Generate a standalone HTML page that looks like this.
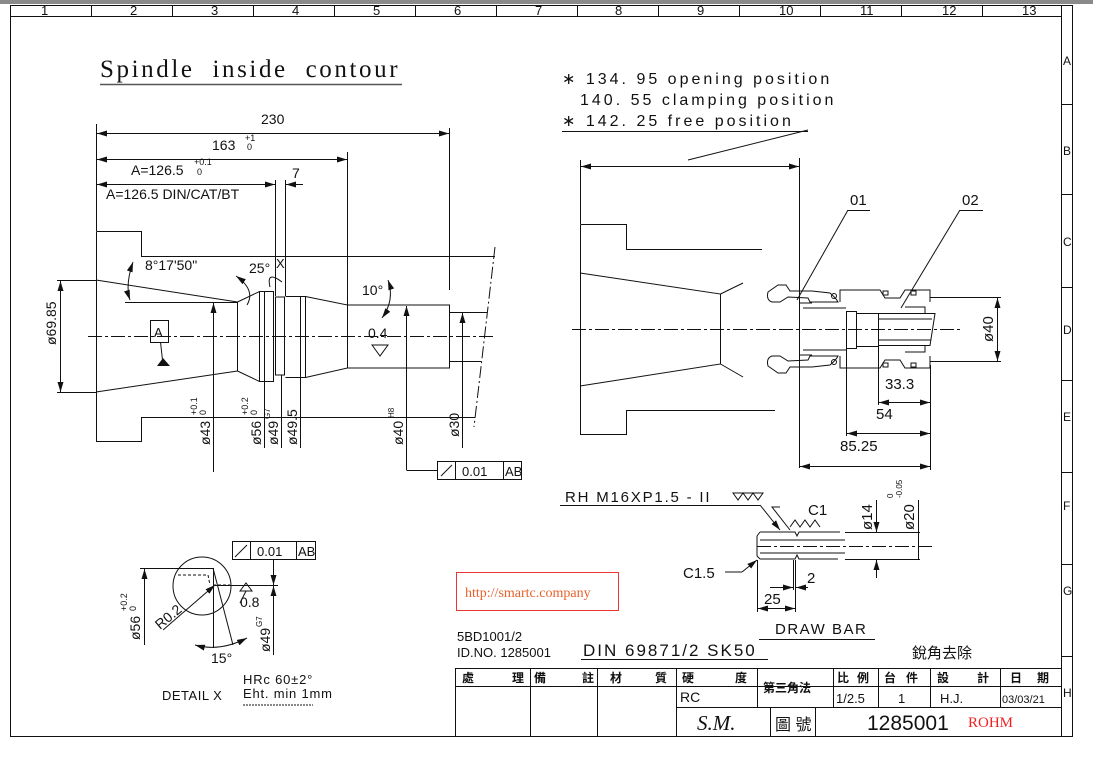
<!DOCTYPE html>
<html><head><meta charset="utf-8"><style>
html,body{margin:0;padding:0;background:#fff;width:1093px;height:758px;overflow:hidden}
svg{display:block}
text{font-family:"Liberation Sans","Noto Sans CJK TC",sans-serif;fill:#111}
.t{font-size:14px}
</style></head><body>
<svg width="1093" height="758" viewBox="0 0 1093 758" xmlns="http://www.w3.org/2000/svg">
<defs>
<marker id="a" viewBox="0 0 10 6" refX="10" refY="3" markerWidth="10" markerHeight="6" markerUnits="userSpaceOnUse" orient="auto-start-reverse"><path d="M0,0 L10,3 L0,6 Z" fill="#111"/></marker>
</defs>
<rect x="0" y="0" width="1093" height="4" fill="#8a8a8a"/>
<g stroke="#111" stroke-width="1" fill="none">
<rect x="10.5" y="5.5" width="1062" height="731"/>
<line x1="10" y1="16.5" x2="1061" y2="16.5"/>
<line x1="1061.5" y1="5" x2="1061.5" y2="737"/>
<g>
<line x1="91.5" y1="5" x2="91.5" y2="16"/><line x1="172.5" y1="5" x2="172.5" y2="16"/><line x1="253.5" y1="5" x2="253.5" y2="16"/><line x1="334.5" y1="5" x2="334.5" y2="16"/><line x1="415.5" y1="5" x2="415.5" y2="16"/><line x1="496.5" y1="5" x2="496.5" y2="16"/><line x1="577.5" y1="5" x2="577.5" y2="16"/><line x1="658.5" y1="5" x2="658.5" y2="16"/><line x1="739.5" y1="5" x2="739.5" y2="16"/><line x1="820.5" y1="5" x2="820.5" y2="16"/><line x1="901.5" y1="5" x2="901.5" y2="16"/><line x1="982.5" y1="5" x2="982.5" y2="16"/>
<line x1="1061" y1="104.5" x2="1073" y2="104.5"/><line x1="1061" y1="194.5" x2="1073" y2="194.5"/><line x1="1061" y1="287.5" x2="1073" y2="287.5"/><line x1="1061" y1="380.5" x2="1073" y2="380.5"/><line x1="1061" y1="472.5" x2="1073" y2="472.5"/><line x1="1061" y1="564.5" x2="1073" y2="564.5"/><line x1="1061" y1="656.5" x2="1073" y2="656.5"/>
</g>
<line x1="100" y1="84.5" x2="402" y2="84.5" stroke="#555" stroke-width="1.5"/>

<!-- LEFT DRAWING -->
<line x1="96.5" y1="124" x2="96.5" y2="231"/>
<line x1="449.5" y1="128" x2="449.5" y2="290"/>
<line x1="347.5" y1="152" x2="347.5" y2="305"/>
<line x1="97" y1="133.5" x2="449" y2="133.5" marker-start="url(#a)" marker-end="url(#a)"/>
<line x1="97" y1="159.5" x2="347" y2="159.5" marker-start="url(#a)" marker-end="url(#a)"/>
<line x1="97" y1="184.5" x2="275" y2="184.5" marker-start="url(#a)" marker-end="url(#a)"/>
<line x1="303" y1="184.5" x2="286" y2="184.5" marker-end="url(#a)"/>
<line x1="275.5" y1="180" x2="275.5" y2="296"/>
<line x1="285.5" y1="180" x2="285.5" y2="296"/>
<path d="M96.5,231.5 H141.5 V256.5 H495 M96.5,231.5 V441.5 H141.5 V417.5 H475"/>
<path d="M96,280 L237.5,302 M96,392 L237.5,371"/>
<path d="M237.5,302 V371 M237.5,302 L259.5,291.5 H273.5 V381.5 H259.5 L237.5,371 M259.5,291.5 V381.5 M264.5,291.5 V381.5"/>
<path d="M275.5,297 H284.5 V375 H275.5 Z M285.5,296.5 H305.5 V377.5 H285.5 M300.5,296.5 V377.5"/>
<path d="M305.5,296.5 L347.5,305 V368 L305.5,377.5"/>
<path d="M347.5,305 H449.5 V368 H347.5 M449.5,312.5 H487 M449.5,361.5 H481"/>
<line x1="495" y1="247" x2="474" y2="427" stroke-dasharray="12,3,2,3"/>
<line x1="88" y1="336.5" x2="496" y2="336.5" stroke-dasharray="14,3,3,3"/>
<line x1="125" y1="302.5" x2="237" y2="302.5"/>
<line x1="57" y1="280.5" x2="96" y2="280.5"/><line x1="57" y1="392.5" x2="96" y2="392.5"/><line x1="60.5" y1="281" x2="60.5" y2="392" marker-start="url(#a)" marker-end="url(#a)"/>
<rect x="150.5" y="320.5" width="18" height="22"/>
<line x1="160.5" y1="342" x2="162.5" y2="360"/>
<path d="M133,262 Q125,285 130,300" marker-start="url(#a)" marker-end="url(#a)"/>
<path d="M236,276 Q256,290 247,305" marker-start="url(#a)"/>
<path d="M270,287 Q266,270 282,282"/>
<path d="M388,280 Q395,300 382,318" marker-start="url(#a)" marker-end="url(#a)"/>
<line x1="213.5" y1="303" x2="213.5" y2="472" marker-start="url(#a)"/><line x1="264.5" y1="381" x2="264.5" y2="448"/><line x1="281.5" y1="375" x2="281.5" y2="448"/><line x1="300.5" y1="377" x2="300.5" y2="448"/><line x1="406.5" y1="306" x2="406.5" y2="470" marker-start="url(#a)"/><line x1="462.5" y1="313" x2="462.5" y2="448" marker-start="url(#a)"/>
<path d="M406.5,470.5 H437.5"/>
<rect x="437.5" y="461.5" width="84" height="18"/><line x1="455.5" y1="461" x2="455.5" y2="479"/><line x1="503.5" y1="461" x2="503.5" y2="479"/><line x1="441" y1="476" x2="452" y2="465"/>
<path d="M372,345 L380,356 L388,345 Z"/>

<!-- RIGHT DRAWING -->
<line x1="580.5" y1="160" x2="580.5" y2="224"/>
<line x1="799.5" y1="158" x2="799.5" y2="468"/>
<line x1="581" y1="166.5" x2="799" y2="166.5" marker-start="url(#a)" marker-end="url(#a)"/>
<line x1="688" y1="160" x2="808" y2="130"/>
<line x1="562" y1="131.5" x2="808" y2="131.5"/>
<path d="M580.5,224.5 H626.5 V249.5 H762 M580.5,224.5 V434.5 H626.5 V410.5 H775"/>
<path d="M580,273 L720.5,294 V364 L580,386 M720.5,294 L743,283 M720.5,364 L743,377"/>
<line x1="572" y1="329.5" x2="963" y2="329.5" stroke-dasharray="14,3,3,3"/>
<path d="M778,285 H786 L790,291 H812 L830,293 Q836,298 838,302 L810,302 L808,298 L788,297 L780,302 H772 Q766,300 768,292 Z"/>
<path d="M778,373 H786 L790,367 H812 L830,365 Q836,360 838,356 L810,356 L808,360 L788,361 L780,356 H772 Q766,358 768,366 Z"/>
<circle cx="834" cy="296" r="2.5"/><circle cx="834" cy="362" r="2.5"/>
<path d="M840,302 V290 H880 L885,298 H900 L905,290 H930 V302 M840,356 V368 H880 L885,360 H900 L905,368 H930 V356"/>
<path d="M799.5,303 H812 M799.5,355 H812 M803,308 H846 M803,350 H846"/>
<rect x="846.5" y="311.5" width="10" height="37"/>
<rect x="856.5" y="313.5" width="22" height="33"/>
<path d="M878.5,313.5 H935 L930,345.5 H878.5 M878.5,319 H932 M878.5,340 H931"/>
<path d="M905,307 H925 V313 M905,352 H925 V346"/>
<rect x="883" y="291" width="5" height="4"/><rect x="883" y="363" width="5" height="4"/><rect x="911" y="291" width="5" height="4"/><rect x="911" y="363" width="5" height="4"/>
<line x1="930" y1="297.5" x2="1001" y2="297.5"/><line x1="930" y1="361.5" x2="1001" y2="361.5"/><line x1="997.5" y1="298" x2="997.5" y2="361" marker-start="url(#a)" marker-end="url(#a)"/>
<line x1="846.5" y1="340" x2="846.5" y2="436"/><line x1="878.5" y1="346" x2="878.5" y2="405"/><line x1="930.5" y1="365" x2="930.5" y2="470"/>
<line x1="879" y1="402.5" x2="930" y2="402.5" marker-start="url(#a)" marker-end="url(#a)"/><line x1="847" y1="433.5" x2="930" y2="433.5" marker-start="url(#a)" marker-end="url(#a)"/><line x1="800" y1="466.5" x2="930" y2="466.5" marker-start="url(#a)" marker-end="url(#a)"/>
<line x1="848" y1="210.5" x2="870" y2="210.5"/><line x1="848" y1="210" x2="797" y2="300"/>
<line x1="960" y1="210.5" x2="983" y2="210.5"/><line x1="960" y1="210" x2="901" y2="308"/>

<!-- DRAW BAR -->
<line x1="560" y1="505.5" x2="760" y2="505.5"/><line x1="760" y1="505" x2="780" y2="530" marker-end="url(#a)"/>
<path d="M733,493 L738,500 L743,493 L748,500 L753,493 L758,500 L763,493 Z"/>
<path d="M790,527 L795,520 L800,527 L805,520 L810,527 L815,520 L820,527"/>
<path d="M780,507 H772 L790,530"/>
<path d="M760,532 H795 L797,536 L799,532 H840 M757,536 V556 M760,532 L757,536 M760,559 L757,556 M760,559 H795 L797,555 L799,559 H838 M760,540 H845 M760,553 H845"/>
<line x1="757" y1="546.5" x2="935" y2="546.5" stroke-dasharray="14,3,3,3"/>
<line x1="845" y1="532.5" x2="920" y2="532.5"/><line x1="845" y1="559.5" x2="920" y2="559.5"/>
<line x1="876.5" y1="500" x2="876.5" y2="532" marker-end="url(#a)"/><line x1="876.5" y1="578" x2="876.5" y2="560" marker-end="url(#a)"/><line x1="918.5" y1="500" x2="918.5" y2="560"/>
<line x1="757.5" y1="560" x2="757.5" y2="612"/><line x1="795.5" y1="560" x2="795.5" y2="612"/><line x1="793.5" y1="560" x2="793.5" y2="590"/>
<line x1="758" y1="608.5" x2="795" y2="608.5" marker-start="url(#a)" marker-end="url(#a)"/><line x1="770" y1="587.5" x2="793" y2="587.5" marker-end="url(#a)"/><line x1="808" y1="587.5" x2="796" y2="587.5" marker-end="url(#a)"/>
<line x1="725" y1="572" x2="742" y2="572"/><line x1="742" y1="572" x2="757" y2="560" marker-end="url(#a)"/>
<line x1="759" y1="639.5" x2="875" y2="639.5"/>

<!-- DETAIL X -->
<circle cx="202" cy="586" r="29"/>
<line x1="140" y1="568.5" x2="213" y2="568.5"/><line x1="144.5" y1="569" x2="144.5" y2="645" marker-start="url(#a)"/>
<path d="M178,575 H208 L210,585 M213,585 H230" stroke-dasharray="3,2"/>
<line x1="213.5" y1="568" x2="213.5" y2="648"/><line x1="213" y1="568" x2="233" y2="645"/>
<line x1="215" y1="585.5" x2="278" y2="585.5"/><line x1="273.5" y1="559" x2="273.5" y2="585" marker-end="url(#a)"/><line x1="273.5" y1="655" x2="273.5" y2="586" marker-end="url(#a)"/>
<line x1="163" y1="630" x2="215" y2="585" marker-end="url(#a)"/>
<path d="M195,645 Q220,652 247,638" marker-start="url(#a)" marker-end="url(#a)"/>
<path d="M240,591 L246,583 L252,591 Z M240,603 L246,591"/>
<rect x="232.5" y="541.5" width="83" height="18"/><line x1="250.5" y1="541" x2="250.5" y2="559"/><line x1="296.5" y1="541" x2="296.5" y2="559"/><line x1="235" y1="557" x2="247" y2="545"/>
<line x1="243" y1="705" x2="313" y2="705" stroke-dasharray="2,1"/>

<rect x="456.5" y="572.5" width="162" height="38" stroke="#e33"/>

<line x1="581" y1="659.5" x2="768" y2="659.5"/>
<rect x="455.5" y="668.5" width="606" height="68"/>
<line x1="455" y1="686.5" x2="1061" y2="686.5"/>
<line x1="676" y1="707.5" x2="1061" y2="707.5"/>
<line x1="530.5" y1="668" x2="530.5" y2="737"/><line x1="597.5" y1="668" x2="597.5" y2="737"/><line x1="676.5" y1="668" x2="676.5" y2="737"/>
<line x1="757.5" y1="668" x2="757.5" y2="707"/><line x1="833.5" y1="668" x2="833.5" y2="707"/><line x1="878.5" y1="668" x2="878.5" y2="707"/><line x1="930.5" y1="668" x2="930.5" y2="707"/><line x1="1000.5" y1="668" x2="1000.5" y2="707"/>
<line x1="770.5" y1="707" x2="770.5" y2="737"/><line x1="815.5" y1="707" x2="815.5" y2="737"/>
</g>
<g fill="#111"><path d="M157,366 L163,358 L170,366 Z"/></g>

<g>
<text x="41" y="15" font-size="13">1</text><text x="130" y="15" font-size="13">2</text><text x="211" y="15" font-size="13">3</text><text x="292" y="15" font-size="13">4</text><text x="373" y="15" font-size="13">5</text><text x="454" y="15" font-size="13">6</text><text x="535" y="15" font-size="13">7</text><text x="615" y="15" font-size="13">8</text><text x="697" y="15" font-size="13">9</text><text x="779" y="15" font-size="13">10</text><text x="860" y="15" font-size="13">11</text><text x="942" y="15" font-size="13">12</text><text x="1022" y="15" font-size="13">13</text>
<text x="1063" y="65" font-size="12">A</text><text x="1063" y="155" font-size="12">B</text><text x="1063" y="246" font-size="12">C</text><text x="1063" y="334" font-size="12">D</text><text x="1063" y="421" font-size="12">E</text><text x="1063" y="510" font-size="12">F</text><text x="1063" y="595" font-size="12">G</text><text x="1063" y="697" font-size="12">H</text>
</g>
<text x="100" y="77" style="font-family:'Liberation Serif',serif;font-size:25px;letter-spacing:2.6px;word-spacing:9px">Spindle inside contour</text>

<g>
<text x="261" y="124" font-size="14">230</text>
<text x="212" y="150" font-size="14">163</text><text x="245" y="141" font-size="9">+1</text><text x="247" y="150" font-size="9">0</text>
<text x="131" y="175" font-size="14">A=126.5</text><text x="194" y="165" font-size="9">+0.1</text><text x="197" y="175" font-size="9">0</text>
<text x="292" y="178" font-size="14">7</text>
<text x="106" y="199" font-size="14">A=126.5  DIN/CAT/BT</text>
<text x="145" y="270" font-size="14">8°17'50"</text>
<text x="249" y="273" font-size="14">25°</text><text x="276" y="268" font-size="13">X</text>
<text x="362" y="295" font-size="14">10°</text>
<text x="368" y="338" font-size="14">0.4</text>
<text x="154" y="337" font-size="13">A</text>
<text x="462" y="476" font-size="13">0.01</text><text x="505" y="476" font-size="13">AB</text>
<text transform="translate(56,345) rotate(-90)" font-size="14">ø69.85</text>
<text transform="translate(210,445) rotate(-90)" font-size="14">ø43</text><text transform="translate(197,415) rotate(-90)" font-size="9">+0.1</text><text transform="translate(206,415) rotate(-90)" font-size="9">0</text>
<text transform="translate(261,445) rotate(-90)" font-size="14">ø56</text><text transform="translate(248,415) rotate(-90)" font-size="9">+0.2</text><text transform="translate(257,415) rotate(-90)" font-size="9">0</text>
<text transform="translate(278,445) rotate(-90)" font-size="14">ø49</text><text transform="translate(270,419) rotate(-90)" font-size="8">G7</text>
<text transform="translate(297,445) rotate(-90)" font-size="14">ø49.5</text>
<text transform="translate(403,445) rotate(-90)" font-size="14">ø40</text><text transform="translate(394,418) rotate(-90)" font-size="8">H8</text>
<text transform="translate(459,437) rotate(-90)" font-size="14">ø30</text>

<text x="562" y="84" font-size="16" style="letter-spacing:3px">∗ 134. 95 opening position</text>
<text x="580" y="105" font-size="16" style="letter-spacing:3px">140. 55 clamping position</text>
<text x="562" y="126" font-size="16" style="letter-spacing:3px">∗ 142. 25 free position</text>
<text x="850" y="205" font-size="15">01</text><text x="962" y="205" font-size="15">02</text>
<text transform="translate(993,342) rotate(-90)" font-size="15">ø40</text>
<text x="885" y="389" font-size="15">33.3</text>
<text x="876" y="419" font-size="15">54</text>
<text x="840" y="451" font-size="15">85.25</text>

<text x="565" y="502" font-size="15" style="letter-spacing:1.8px">RH  M16XP1.5  -  II</text>
<text x="808" y="515" font-size="15">C1</text>
<text x="683" y="578" font-size="15">C1.5</text>
<text x="807" y="583" font-size="15">2</text>
<text x="764" y="604" font-size="15">25</text>
<text transform="translate(872,530) rotate(-90)" font-size="15">ø14</text>
<text transform="translate(914,530) rotate(-90)" font-size="15">ø20</text>
<text transform="translate(893,498) rotate(-90)" font-size="8">0</text><text transform="translate(902,498) rotate(-90)" font-size="8">-0.05</text>
<text x="775" y="634" font-size="15" style="letter-spacing:1.5px">DRAW  BAR</text>

<text x="257" y="556" font-size="13">0.01</text><text x="298" y="556" font-size="13">AB</text>
<text x="240" y="607" font-size="14">0.8</text>
<text transform="translate(160,630) rotate(-40)" font-size="14">R0.2</text>
<text x="211" y="663" font-size="14">15°</text>
<text transform="translate(140,640) rotate(-90)" font-size="14">ø56</text><text transform="translate(127,611) rotate(-90)" font-size="9">+0.2</text><text transform="translate(136,611) rotate(-90)" font-size="9">0</text>
<text transform="translate(270,652) rotate(-90)" font-size="14">ø49</text><text transform="translate(262,627) rotate(-90)" font-size="8">G7</text>
<text x="243" y="684" font-size="13" style="letter-spacing:0.8px">HRc  60±2°</text>
<text x="243" y="698" font-size="13" style="letter-spacing:0.8px">Eht.  min  1mm</text>
<text x="162" y="700" font-size="13" style="letter-spacing:0.5px">DETAIL  X</text>

<text x="465" y="597" style="font-family:'Liberation Serif',serif;font-size:14px;fill:#e8612c">http://smartc.company</text>

<text x="457" y="641" font-size="13">5BD1001/2</text>
<text x="457" y="657" font-size="13">ID.NO. 1285001</text>
<text x="583" y="656" font-size="17" style="letter-spacing:2px">DIN  69871/2  SK50</text>
<text x="912" y="658" font-size="15">銳角去除</text>
<g font-size="12" font-weight="bold">
<text x="462" y="682">處</text><text x="512" y="682">理</text><text x="534" y="682">備</text><text x="582" y="682">註</text><text x="610" y="682">材</text><text x="655" y="682">質</text><text x="682" y="682">硬</text><text x="735" y="682">度</text><text x="763" y="692">第三角法</text><text x="837" y="682">比</text><text x="857" y="682">例</text><text x="884" y="682">台</text><text x="906" y="682">件</text><text x="937" y="682">設</text><text x="977" y="682">計</text><text x="1010" y="682">日</text><text x="1037" y="682">期</text>
</g>
<text x="680" y="702" font-size="14">RC</text>
<text x="836" y="703" font-size="13">1/2.5</text>
<text x="898" y="703" font-size="13">1</text>
<text x="940" y="703" font-size="13">H.J.</text>
<text x="1002" y="703" font-size="11">03/03/21</text>
<text x="697" y="730" style="font-family:'Liberation Serif',serif;font-size:21px;font-style:italic">S.M.</text>
<text x="775" y="730" font-size="16">圖 號</text>
<text x="867" y="730" font-size="21">1285001</text>
<text x="968" y="727" style="font-family:'Liberation Serif',serif;font-size:15px;fill:#e22">ROHM</text>
</g>
</svg>
</body></html>
